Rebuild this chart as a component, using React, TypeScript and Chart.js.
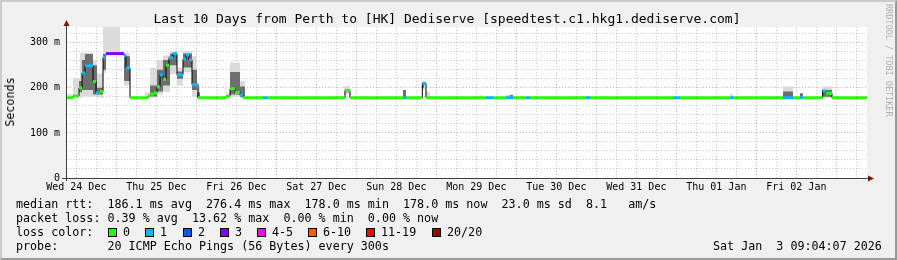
import React, { useEffect, useRef } from 'react';
import { Chart, registerables } from 'chart.js';

Chart.register(...registerables);

// ---------- data ----------
// x values: hours since Wed 24 Dec 00:00
const X_MIN = 9.2;
const X_MAX = 249.2;
const Y_MAX = 335;

const dayLabels = [
  'Wed 24 Dec', 'Thu 25 Dec', 'Fri 26 Dec', 'Sat 27 Dec', 'Sun 28 Dec',
  'Mon 29 Dec', 'Tue 30 Dec', 'Wed 31 Dec', 'Thu 01 Jan', 'Fri 02 Jan',
];
const yTickLabels = ['0', '100 m', '200 m', '300 m'];

// median rtt (ms) change points, value holds until next point
const medianHours = [
  9.2, 11.0, 12.8, 13.7, 14.6, 17.0, 17.9, 19.1, 20.0, 20.6, 20.9, 26.3, 26.9, 28.1,
  33.5, 34.1, 35.3, 36.2, 37.1, 38.0, 38.9, 39.8, 41.0, 42.2, 44.0, 44.9, 45.8, 46.7, 48.5,
  56.9, 58.1, 59.6, 61.1, 62.0, 68.0, 69.2, 92.6, 94.1, 110.0, 111.0, 115.8, 116.9,
  134.9, 137.0, 140.9, 143.0, 146.9, 148.1, 164.9, 166.1, 191.0, 193.1, 208.1, 209.0,
  224.0, 227.0, 229.1, 230.0, 235.9, 236.9, 238.7, 249.2,
];
const medianMs = [
  178, 182, 200, 233, 249, 214, 189, 192, 268, 272, 276, 272, 244, 178,
  182, 186, 189, 202, 229, 219, 250, 267, 276, 229, 264, 273, 262, 207, 178,
  181, 198, 190, 184, 178, 178, 178, 194, 178, 178, 178, 210, 178,
  178, 178, 178, 178, 178, 178, 178, 178, 178, 178, 178, 178,
  178, 178, 178, 178, 193, 188, 178, 178,
];
// index into lossLabels / lossColors
const medianLoss = [
  0, 0, 0, 1, 1, 0, 1, 0, 1, 1, 3, 1, 1, 0,
  0, 0, 0, 0, 1, 0, 0, 1, 1, 1, 1, 1, 1, 1, 0,
  0, 0, 0, 1, 0, 1, 0, 0, 0, 1, 0, 1, 0,
  1, 0, 1, 0, 1, 0, 1, 0, 1, 0, 1, 0,
  1, 0, 1, 0, 1, 0, 0, 0,
];

// smoke (ping spread), light outer band
const smokeLightHours = [
  9.2, 11.0, 13.1, 14.0, 17.0, 18.2, 20.0, 20.9, 25.1, 26.3, 28.1,
  32.6, 34.1, 36.2, 38.0, 40.1, 42.2, 44.0, 46.7, 48.2, 49.1,
  56.9, 58.1, 61.1, 62.6, 92.3, 94.1, 115.7, 116.6, 118.1, 133.1, 133.7,
  140.9, 143.0, 208.1, 209.0, 214.1, 216.5, 224.0, 227.0, 229.1, 230.0,
  235.7, 238.7, 249.2,
];
const smokeLightLo = [
  175, 178, 178, 180, 182, 178, 233, 276, 274, 205, 178,
  178, 178, 185, 190, 230, 205, 235, 180, 178, 178,
  178, 180, 178, 178, 185, 178, 195, 181, 178, 178, 178,
  178, 178, 178, 178, 178, 178, 178, 178, 178, 178,
  178, 178, 178,
];
const smokeLightHi = [
  186, 222, 278, 278, 262, 232, 340, 340, 278, 278, 178,
  190, 244, 262, 272, 280, 245, 282, 270, 200, 178,
  188, 256, 215, 178, 204, 178, 212, 192, 178, 184, 178,
  185, 178, 187, 178, 180, 178, 203, 178, 188, 178,
  203, 178, 178,
];
// smoke, dark inner band
const smokeDarkHours = [
  9.2, 12.8, 13.7, 14.6, 17.0, 18.2, 20.0, 20.9, 26.3, 28.1,
  34.1, 36.2, 38.0, 40.1, 42.2, 44.0, 46.7, 48.2, 49.1,
  58.1, 61.1, 62.6, 92.6, 93.8, 110.0, 110.9, 115.7, 116.3,
  142.1, 143.0, 224.0, 227.0, 229.1, 230.0, 235.7, 238.7, 249.2,
];
const smokeDarkLo = [
  178, 190, 195, 195, 185, 185, 240, 276, 215, 178,
  181, 192, 205, 250, 220, 245, 195, 178, 178,
  185, 180, 178, 190, 178, 178, 178, 200, 178,
  178, 178, 178, 178, 178, 178, 180, 178, 178,
];
const smokeDarkHi = [
  178, 215, 262, 275, 250, 200, 275, 276, 270, 178,
  205, 240, 262, 276, 236, 276, 240, 190, 178,
  235, 203, 178, 197, 178, 195, 178, 210, 178,
  184, 178, 192, 178, 188, 178, 195, 178, 178,
];

const lossLabels = ['0', '1', '2', '3', '4-5', '6-10', '11-19', '20/20'];
const lossColors = ['#26ff00', '#00b8ff', '#0059ff', '#7e00ff', '#ff00ff', '#ff5e00', '#ff0000', '#a10000'];

const titleText = 'Last 10 Days from Perth to [HK] Dediserve [speedtest.c1.hkg1.dediserve.com]';
const rttLine = 'median rtt:  186.1 ms avg  276.4 ms max  178.0 ms min  178.0 ms now  23.0 ms sd  8.1   am/s';
const lossLine = 'packet loss: 0.39 % avg  13.62 % max  0.00 % min  0.00 % now';
const lossColorTitle = 'loss color:';
const probeLine = 'probe:       20 ICMP Echo Pings (56 Bytes) every 300s';
const dateText = 'Sat Jan  3 09:04:07 2026';
const yTitle = 'Seconds';
const watermark = 'RRDTOOL / TOBI OETIKER';

// ---------- layout constants ----------
const W = 897;
const H = 260;
const MONO = '"DejaVu Sans Mono", monospace';
const swatchX = [108, 145, 183, 220, 257, 308, 366, 432];

const MINOR = 'rgba(143,143,143,0.5)';
const MAJOR = 'rgba(222,80,80,0.5)';

const framePlugin = {
  id: 'rrdFrame',
  beforeDraw(chart: any) {
    const { ctx, chartArea: a } = chart;
    ctx.save();
    ctx.fillStyle = '#ffffff';
    ctx.fillRect(a.left, a.top, a.right - a.left, a.bottom - a.top);
    ctx.restore();
  },
  afterDraw(chart: any) {
    const { ctx, chartArea: a } = chart;
    ctx.save();
    ctx.strokeStyle = '#404040';
    ctx.lineWidth = 1;
    ctx.beginPath();
    ctx.moveTo(a.left - 0.5, a.bottom + 3);
    ctx.lineTo(a.left - 0.5, a.top - 1);
    ctx.moveTo(a.left - 5, a.bottom + 0.5);
    ctx.lineTo(a.right + 1, a.bottom + 0.5);
    ctx.stroke();
    ctx.fillStyle = '#7f1010';
    ctx.beginPath();
    ctx.moveTo(a.left - 3.5, a.top - 1);
    ctx.lineTo(a.left + 2.5, a.top - 1);
    ctx.lineTo(a.left - 0.5, a.top - 7);
    ctx.closePath();
    ctx.fill();
    ctx.beginPath();
    ctx.moveTo(a.right + 1, a.bottom - 2.5);
    ctx.lineTo(a.right + 1, a.bottom + 3.5);
    ctx.lineTo(a.right + 7, a.bottom + 0.5);
    ctx.closePath();
    ctx.fill();
    ctx.restore();
  },
};

export default function App() {
  const ref = useRef<HTMLCanvasElement>(null);

  useEffect(() => {
    const canvas = ref.current;
    if (!canvas) return;
    const pts = (hs: number[], vs: number[]) => hs.map((h, i) => ({ x: h, y: vs[i] }));

    const coloredPts: { x: number; y: number }[] = [];
    for (let i = 0; i < medianHours.length - 1; i++) {
      coloredPts.push({ x: medianHours[i], y: medianMs[i] });
      coloredPts.push({ x: medianHours[i + 1], y: medianMs[i] });
    }

    const xTicks: number[] = [];
    for (let d = 0; d <= dayLabels.length; d++) {
      for (let q = 0; q < 24; q += 6) {
        const v = d * 24 + q;
        if (v > X_MIN && v < X_MAX) xTicks.push(v);
      }
    }
    const yTicks: number[] = [];
    for (let v = 0; v <= Y_MAX; v += 20) yTicks.push(v);

    const base = { pointRadius: 0, pointHoverRadius: 0, borderWidth: 0, stepped: 'before' as const };

    const chart = new Chart(canvas, {
      type: 'line',
      data: {
        datasets: [
          { ...base, data: pts(smokeLightHours, smokeLightLo), fill: false, order: 10 },
          { ...base, data: pts(smokeLightHours, smokeLightHi), fill: '-1', backgroundColor: '#dadada', order: 9 },
          { ...base, data: pts(smokeDarkHours, smokeDarkLo), fill: false, order: 8 },
          { ...base, data: pts(smokeDarkHours, smokeDarkHi), fill: '-1', backgroundColor: '#6e6e6e', order: 7 },
          {
            ...base,
            data: pts(medianHours, medianMs),
            borderColor: '#000000',
            borderWidth: 1,
            fill: false,
            order: 2,
          },
          {
            data: coloredPts,
            pointRadius: 0,
            pointHoverRadius: 0,
            borderWidth: 3,
            borderCapStyle: 'butt',
            fill: false,
            order: 1,
            segment: {
              borderColor: (ctx: any) => {
                if (ctx.p0.parsed.y !== ctx.p1.parsed.y) return 'rgba(0,0,0,0)';
                return lossColors[medianLoss[Math.floor(ctx.p0DataIndex / 2)]];
              },
            },
          } as any,
        ],
      },
      options: {
        animation: false,
        responsive: false,
        devicePixelRatio: 1,
        events: [],
        layout: { padding: { left: 0, top: 27, right: 30, bottom: 0 } },
        plugins: { legend: { display: false }, tooltip: { enabled: false } },
        scales: {
          x: {
            type: 'linear',
            min: X_MIN,
            max: X_MAX,
            afterBuildTicks: (s: any) => {
              s.ticks = xTicks.map((value) => ({ value }));
            },
            afterFit: (s: any) => {
              s.height = H - 178;
              s.paddingLeft = 0;
              s.paddingRight = 0;
            },
            grid: {
              color: (c: any) => (c.tick && c.tick.value % 24 === 0 ? MAJOR : MINOR),
              lineWidth: 1,
              drawTicks: false,
            },
            border: { display: false, dash: [1, 2] },
            ticks: {
              autoSkip: false,
              maxRotation: 0,
              minRotation: 0,
              padding: 3,
              color: '#000',
              font: { family: 'DejaVu Sans Mono', size: 10 },
              callback: (value: any) => {
                const v = Number(value);
                return v % 24 === 12 ? dayLabels[(v - 12) / 24] : '';
              },
            },
          },
          y: {
            type: 'linear',
            min: 0,
            max: Y_MAX,
            afterBuildTicks: (s: any) => {
              s.ticks = yTicks.map((value) => ({ value }));
            },
            afterFit: (s: any) => {
              s.width = 67;
              s.paddingTop = 0;
              s.paddingBottom = 0;
            },
            grid: {
              color: (c: any) => (c.tick && c.tick.value % 100 === 0 ? MAJOR : MINOR),
              lineWidth: 1,
              drawTicks: false,
            },
            border: { display: false, dash: [1, 2] },
            ticks: {
              autoSkip: false,
              padding: 7,
              color: '#000',
              font: { family: 'DejaVu Sans Mono', size: 10 },
              callback: (value: any) => {
                const v = Number(value);
                return v % 100 === 0 ? yTickLabels[v / 100] : '';
              },
            },
          },
        },
      } as any,
      plugins: [framePlugin],
    });
    return () => chart.destroy();
  }, []);

  const legendText: React.CSSProperties = {
    position: 'absolute',
    left: 16,
    fontFamily: MONO,
    fontSize: 11.7,
    lineHeight: '14px',
    whiteSpace: 'pre',
    color: '#000',
  };

  return (
    <div style={{ position: 'absolute', left: 0, top: 0, width: W, height: H, background: '#f0f0f0', overflow: 'hidden' }}>
      <div
        style={{
          position: 'absolute', left: 0, top: 0, width: W, height: H, boxSizing: 'border-box',
          borderTop: '2px solid #cbcbcb', borderLeft: '2px solid #cbcbcb',
          borderRight: '2px solid #999999', borderBottom: '2px solid #999999',
        }}
      />
      <canvas ref={ref} width={W} height={H} style={{ position: 'absolute', left: 0, top: 0, width: W, height: H }} />
      <div style={{ position: 'absolute', left: 0, top: 11, width: 894, textAlign: 'center', fontFamily: MONO, fontSize: 13, lineHeight: '16px', whiteSpace: 'pre', color: '#000' }}>
        {titleText}
      </div>
      <div style={{ position: 'absolute', left: 10, top: 102, transform: 'translate(-50%, -50%) rotate(-90deg)', fontFamily: MONO, fontSize: 11.7, lineHeight: '14px', whiteSpace: 'pre', color: '#000' }}>
        {yTitle}
      </div>
      <div style={{ position: 'absolute', left: 884, top: 4, writingMode: 'vertical-rl', fontFamily: MONO, fontSize: 8.5, lineHeight: '10px', whiteSpace: 'pre', color: '#b0b0b0' }}>
        {watermark}
      </div>
      <div style={{ ...legendText, top: 197 }}>{rttLine}</div>
      <div style={{ ...legendText, top: 211 }}>{lossLine}</div>
      <div style={{ ...legendText, top: 225 }}>{lossColorTitle}</div>
      {lossLabels.map((lab, i) => (
        <React.Fragment key={lab}>
          <div style={{ position: 'absolute', left: swatchX[i], top: 228, width: 9, height: 9, boxSizing: 'border-box', border: '1px solid #000', background: lossColors[i] }} />
          <div style={{ ...legendText, left: swatchX[i] + 15, top: 225 }}>{lab}</div>
        </React.Fragment>
      ))}
      <div style={{ ...legendText, top: 239 }}>{probeLine}</div>
      <div style={{ ...legendText, left: 713, top: 239 }}>{dateText}</div>
    </div>
  );
}
